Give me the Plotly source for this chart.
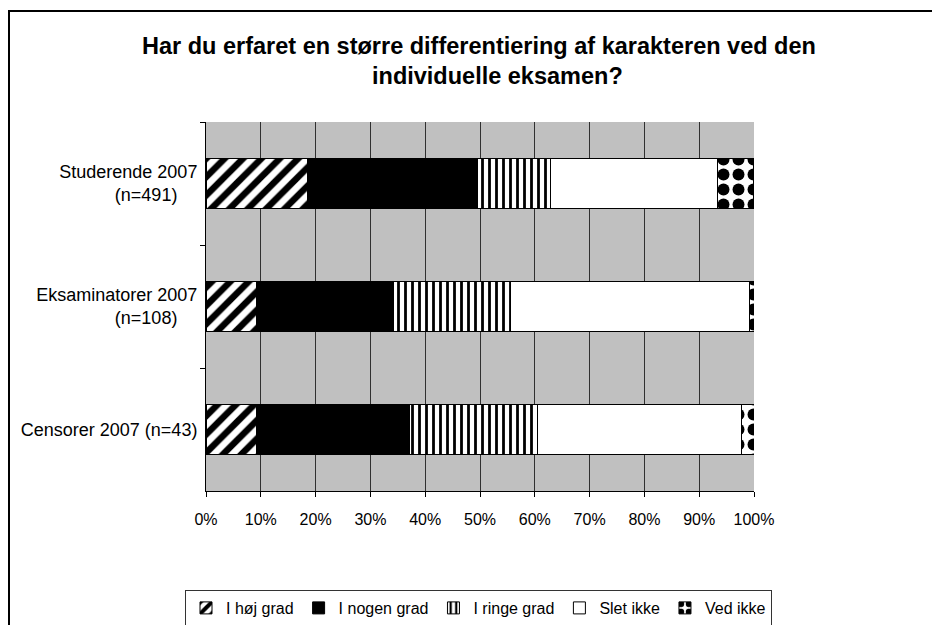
import plotly.graph_objects as go

# ---- data (percent of respondents) ----
categories = ["Studerende 2007<br>(n=491)\u00a0\u00a0\u00a0\u00a0", "Eksaminatorer 2007<br>(n=108)\u00a0\u00a0\u00a0\u00a0", "Censorer 2007 (n=43)"]
series_names = ["I høj grad", "I nogen grad", "I ringe grad", "Slet ikke", "Ved ikke"]
hoej_grad = [18.5, 9.3, 9.3]
nogen_grad = [31.0, 25.0, 27.9]
ringe_grad = [13.4, 21.3, 23.3]
slet_ikke = [30.5, 43.5, 37.2]
ved_ikke = [6.5, 0.9, 2.3]
x_tick_values = [0, 10, 20, 30, 40, 50, 60, 70, 80, 90, 100]
x_tick_labels = ["0%", "10%", "20%", "30%", "40%", "50%", "60%", "70%", "80%", "90%", "100%"]
title_lines = ["Har du erfaret en større differentiering af karakteren ved den", "individuelle eksamen?"]

series_values = [hoej_grad, nogen_grad, ringe_grad, slet_ikke, ved_ikke]
FONT = "Liberation Sans, Arial, sans-serif"

styles = [
    dict(color="white", pattern=dict(shape="/", fgcolor="black", bgcolor="white", fgopacity=1,
                                     size=13, solidity=0.5, fillmode="overlay")),
    dict(color="black"),
    dict(color="white", pattern=dict(shape="|", fgcolor="black", bgcolor="white", fgopacity=1,
                                     size=7, solidity=0.4, fillmode="overlay")),
    dict(color="white"),
    dict(color="white", pattern=dict(shape=".", fgcolor="black", bgcolor="white", fgopacity=1,
                                     size=15, solidity=0.5, fillmode="overlay")),
]

fig = go.Figure()
for name, vals, st in zip(series_names, series_values, styles):
    marker = dict(line=dict(color="black", width=1), **st)
    fig.add_trace(go.Bar(
        y=categories, x=vals, name=name, orientation="h",
        marker=marker, hoverinfo="x+name",
    ))

# page offset (body margin) of 8px
OFF = 8
W, H = 940, 625
L, R, T, B = 198, 194, 114, 142
pw, ph = W - L - R, H - T - B

def px_x(x):
    return (x - OFF - L) / pw

def px_y(y):
    return (H - B - (y - OFF)) / ph

fig.update_layout(
    width=W, height=H,
    margin=dict(l=L, r=R, t=T, b=B, autoexpand=False),
    paper_bgcolor="white",
    plot_bgcolor="#C0C0C0",
    barmode="stack",
    bargap=0.59,
    font=dict(family=FONT, size=16, color="black"),
    showlegend=True,
    legend=dict(
        orientation="h", x=px_x(185), y=px_y(590), xanchor="left", yanchor="top",
        bordercolor="#333333", borderwidth=1, bgcolor="white",
        font=dict(family=FONT, size=16, color="black"),
        traceorder="normal", itemwidth=30,
    ),
    xaxis=dict(
        range=[0, 100], tickvals=x_tick_values, ticktext=x_tick_labels,
        showgrid=True, gridcolor="#303030", gridwidth=1,
        showline=True, linecolor="black", linewidth=1,
        ticks="outside", ticklen=5, tickcolor="black", ticklabelstandoff=9,
        zeroline=False, tickfont=dict(size=16), fixedrange=True,
    ),
    yaxis=dict(
        categoryorder="array", categoryarray=categories, autorange="reversed",
        showgrid=False, showline=True, linecolor="black", linewidth=1,
        ticks="outside", ticklen=5, tickcolor="black", tickson="boundaries",
        ticklabelstandoff=4, tickfont=dict(size=18), fixedrange=True,
    ),
    annotations=[
        dict(text="<b>" + title_lines[0] + "</b>", xref="paper", yref="paper",
             x=px_x(479), y=px_y(46), xanchor="center", yanchor="middle",
             showarrow=False, font=dict(family=FONT, size=23.5, color="black")),
        dict(text="<b>" + title_lines[1] + "</b>", xref="paper", yref="paper",
             x=px_x(497), y=px_y(76), xanchor="center", yanchor="middle",
             showarrow=False, font=dict(family=FONT, size=23.5, color="black")),
    ],
    shapes=[
        dict(type="rect", xref="paper", yref="paper",
             x0=px_x(9), x1=px_x(990), y0=px_y(11), y1=px_y(690),
             line=dict(color="black", width=2), fillcolor="rgba(0,0,0,0)", layer="above"),
    ],
)

fig.write_html("out.html")
